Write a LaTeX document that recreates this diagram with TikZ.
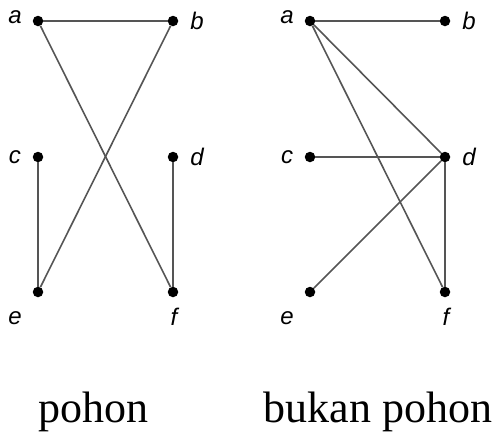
\documentclass[tikz,border=0pt]{standalone}
\usepackage{fontspec}
\setmainfont{Liberation Serif}
\newfontfamily\labelfont{Liberation Sans}
\usetikzlibrary{positioning}
\definecolor{edgegray}{HTML}{555555}
\tikzset{
  vertex/.style={circle,fill=black,inner sep=0pt,minimum size=10.5pt},
  edge/.style={draw=edgegray,line width=1.6pt},
  vlabel/.style={font=\labelfont\itshape\fontsize{24}{24}\selectfont,inner sep=0pt},
  caption/.style={font=\fontsize{44}{44}\selectfont,inner sep=0pt,anchor=base}
}
\begin{document}
\begin{tikzpicture}[x=1pt,y=-1pt]
  \useasboundingbox (0,0) rectangle (497,432);
  % Vertices and labels of both graphs
  \foreach \g/\dx in {L/0,R/272} {
    \node[vertex] (\g a) at (38+\dx,21) {};
    \node[vertex] (\g b) at (173+\dx,21) {};
    \node[vertex] (\g c) at (38+\dx,157) {};
    \node[vertex] (\g d) at (173+\dx,157) {};
    \node[vertex] (\g e) at (38+\dx,292) {};
    \node[vertex] (\g f) at (173+\dx,292) {};
    \node[vlabel] (\g a-l) at (15+\dx,17) {a};
    \node[vlabel] (\g b-l) at (197+\dx,21) {b};
    \node[vlabel] (\g c-l) at (15+\dx,157) {c};
    \node[vlabel] (\g d-l) at (197+\dx,157) {d};
    \node[vlabel] (\g e-l) at (15+\dx,318) {e};
    \node[vlabel] (\g f-l) at (174+\dx,317) {f};
  }
  % Tree
  \draw[edge] (La) -- (Lb);
  \draw[edge] (La) -- (Lf);
  \draw[edge] (Lb) -- (Le);
  \draw[edge] (Lc) -- (Le);
  \draw[edge] (Ld) -- (Lf);
  % Not a tree
  \draw[edge] (Ra) -- (Rb);
  \draw[edge] (Ra) -- (Rd);
  \draw[edge] (Ra) -- (Rf);
  \draw[edge] (Rc) -- (Rd);
  \draw[edge] (Rd) -- (Re);
  \draw[edge] (Rd) -- (Rf);
  % Captions
  \node[caption] (cap-l) at (93,422) {pohon};
  \node[caption] (cap-r) at (378,422) {bukan pohon};
\end{tikzpicture}
\end{document}
